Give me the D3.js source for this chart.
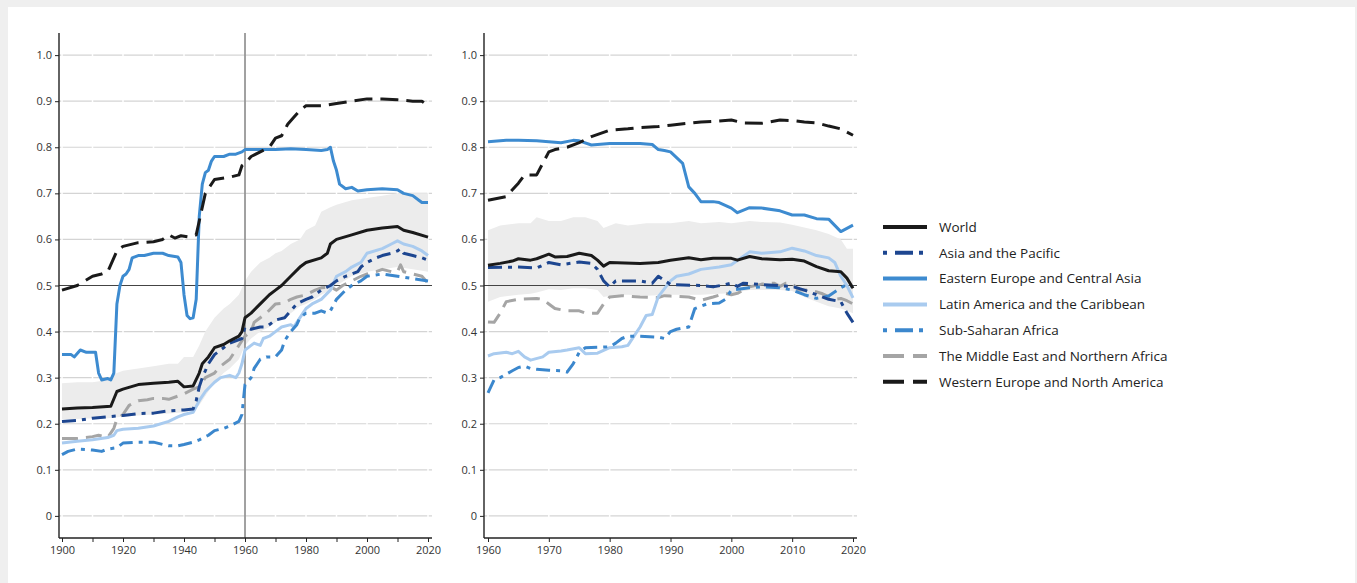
<!DOCTYPE html>
<html>
<head>
<meta charset="utf-8">
<script src="https://cdn.jsdelivr.net/npm/d3@7"></script>
<style>
  html, body { margin: 0; padding: 0; background: #efefef; }
  #chart { position: absolute; left: 0; top: 0; }
  text { font-family: "Open Sans", "Noto Sans", sans-serif; }
</style>
</head>
<body>
<div id="chart"></div>
<script>
// ---- data: [year, value] pairs ----
// left panel, 1900-2020
var worldL = [[1900,.232],[1905,.234],[1910,.235],[1916,.238],[1918,.27],[1920,.275],[1925,.285],[1930,.288],[1935,.29],[1938,.292],[1940,.28],[1943,.282],[1945,.31],[1946,.33],[1948,.345],[1950,.365],[1953,.372],[1955,.38],[1958,.39],[1959,.4],[1960,.43],[1962,.44],[1965,.46],[1968,.48],[1970,.49],[1972,.5],[1975,.52],[1978,.54],[1980,.55],[1985,.56],[1987,.57],[1988,.59],[1990,.6],[1995,.61],[2000,.62],[2005,.625],[2010,.628],[2012,.62],[2015,.615],[2020,.605]];
var asiaL = [[1900,.205],[1905,.207],[1910,.212],[1915,.215],[1920,.218],[1925,.222],[1930,.223],[1935,.228],[1940,.23],[1943,.232],[1944,.25],[1945,.28],[1946,.3],[1948,.33],[1950,.35],[1952,.36],[1955,.375],[1957,.38],[1959,.385],[1960,.41],[1962,.405],[1965,.41],[1967,.41],[1970,.425],[1973,.43],[1975,.445],[1977,.46],[1980,.47],[1982,.475],[1985,.49],[1988,.5],[1990,.51],[1993,.52],[1995,.525],[1997,.53],[1998,.54],[2000,.55],[2003,.56],[2005,.565],[2008,.57],[2010,.575],[2011,.58],[2012,.57],[2015,.565],[2018,.56],[2020,.555]];
var eecaL = [[1900,.35],[1903,.35],[1904,.345],[1906,.36],[1908,.355],[1911,.355],[1912,.31],[1913,.295],[1915,.298],[1916,.295],[1917,.31],[1918,.46],[1919,.5],[1920,.52],[1921,.525],[1922,.535],[1923,.56],[1925,.565],[1927,.565],[1930,.57],[1933,.57],[1935,.565],[1938,.562],[1939,.55],[1940,.48],[1941,.435],[1942,.428],[1943,.43],[1944,.47],[1945,.65],[1946,.72],[1947,.745],[1948,.75],[1949,.77],[1950,.78],[1953,.78],[1955,.785],[1957,.785],[1959,.79],[1960,.795],[1965,.795],[1970,.795],[1975,.797],[1980,.795],[1985,.793],[1987,.795],[1988,.8],[1989,.77],[1990,.75],[1991,.72],[1993,.71],[1995,.713],[1997,.705],[2000,.708],[2005,.71],[2010,.708],[2012,.7],[2015,.695],[2017,.685],[2018,.68],[2020,.68]];
var lacL = [[1900,.158],[1905,.162],[1910,.165],[1915,.17],[1917,.175],[1918,.185],[1920,.188],[1925,.19],[1930,.195],[1935,.205],[1938,.215],[1940,.22],[1943,.225],[1945,.25],[1947,.27],[1950,.29],[1952,.3],[1955,.305],[1957,.3],[1958,.31],[1959,.33],[1960,.36],[1962,.37],[1963,.375],[1965,.37],[1966,.385],[1968,.39],[1970,.4],[1972,.41],[1975,.415],[1976,.41],[1977,.42],[1979,.44],[1980,.45],[1982,.46],[1985,.47],[1988,.49],[1990,.52],[1993,.53],[1995,.54],[1998,.55],[2000,.57],[2005,.58],[2008,.59],[2010,.597],[2012,.59],[2015,.585],[2018,.575],[2020,.565]];
var ssaL = [[1900,.133],[1902,.14],[1905,.145],[1910,.143],[1913,.14],[1915,.145],[1918,.148],[1920,.158],[1925,.16],[1930,.16],[1933,.155],[1935,.152],[1938,.152],[1940,.155],[1943,.16],[1945,.165],[1948,.175],[1950,.185],[1953,.19],[1955,.195],[1958,.205],[1959,.22],[1960,.285],[1962,.3],[1963,.32],[1965,.34],[1967,.345],[1970,.345],[1972,.36],[1973,.38],[1975,.4],[1977,.415],[1978,.43],[1980,.44],[1983,.44],[1985,.445],[1987,.44],[1988,.445],[1990,.47],[1993,.49],[1995,.5],[1998,.51],[2000,.52],[2005,.525],[2010,.52],[2015,.515],[2020,.51]];
var menaL = [[1900,.168],[1905,.168],[1910,.172],[1912,.175],[1915,.17],[1917,.19],[1918,.21],[1920,.22],[1922,.24],[1925,.25],[1928,.252],[1930,.255],[1933,.255],[1935,.253],[1938,.26],[1940,.265],[1943,.275],[1945,.28],[1947,.3],[1950,.31],[1952,.325],[1955,.34],[1957,.36],[1958,.37],[1959,.38],[1960,.39],[1962,.4],[1963,.42],[1965,.43],[1967,.44],[1970,.46],[1973,.462],[1975,.47],[1977,.475],[1979,.478],[1980,.48],[1983,.49],[1985,.495],[1988,.497],[1990,.49],[1992,.5],[1995,.51],[1998,.52],[2000,.525],[2003,.53],[2005,.535],[2008,.53],[2010,.53],[2011,.545],[2012,.53],[2015,.525],[2018,.52],[2020,.505]];
var wenaL = [[1900,.49],[1905,.5],[1910,.52],[1913,.525],[1915,.53],[1917,.56],[1918,.575],[1920,.585],[1925,.593],[1930,.595],[1933,.6],[1935,.61],[1937,.603],[1939,.608],[1942,.605],[1944,.61],[1945,.64],[1947,.7],[1950,.73],[1955,.735],[1958,.74],[1959,.76],[1960,.765],[1962,.78],[1965,.79],[1968,.8],[1970,.82],[1972,.825],[1974,.85],[1976,.865],[1978,.88],[1980,.89],[1985,.89],[1990,.895],[1995,.9],[2000,.905],[2005,.905],[2010,.903],[2015,.9],[2018,.9],[2020,.89]];
var bandL = [[1900,.21,.288],[1905,.21,.29],[1910,.212,.29],[1915,.212,.295],[1918,.214,.31],[1920,.215,.315],[1925,.218,.32],[1930,.22,.325],[1935,.222,.33],[1938,.224,.33],[1940,.225,.345],[1943,.228,.345],[1945,.24,.37],[1947,.26,.4],[1950,.29,.43],[1953,.31,.45],[1955,.32,.46],[1958,.34,.48],[1960,.37,.51],[1962,.385,.53],[1965,.4,.55],[1968,.41,.56],[1970,.42,.57],[1972,.43,.575],[1975,.44,.59],[1978,.455,.6],[1980,.46,.62],[1983,.47,.63],[1985,.48,.66],[1988,.49,.67],[1990,.5,.675],[1995,.52,.685],[2000,.53,.69],[2005,.535,.695],[2010,.54,.7],[2015,.535,.7],[2020,.53,.7]];

// right panel, 1960-2020
var worldR = [[1960,.544],[1962,.548],[1964,.553],[1965,.558],[1967,.555],[1968,.558],[1970,.568],[1971,.562],[1973,.563],[1975,.57],[1977,.565],[1978,.555],[1979,.542],[1980,.55],[1985,.548],[1988,.55],[1990,.555],[1993,.56],[1995,.556],[1997,.559],[2000,.559],[2001,.555],[2003,.563],[2005,.558],[2008,.556],[2010,.557],[2012,.553],[2014,.541],[2016,.532],[2018,.53],[2019,.516],[2020,.494]];
var asiaR = [[1960,.539],[1965,.54],[1968,.538],[1970,.55],[1972,.545],[1975,.551],[1977,.548],[1978,.535],[1979,.51],[1980,.497],[1981,.51],[1985,.51],[1987,.505],[1988,.52],[1990,.502],[1995,.5],[1997,.497],[1999,.502],[2000,.505],[2001,.498],[2002,.505],[2005,.502],[2010,.498],[2012,.49],[2014,.48],[2016,.47],[2018,.465],[2019,.44],[2020,.42]];
var eecaR = [[1960,.812],[1963,.815],[1965,.815],[1968,.814],[1970,.812],[1972,.81],[1974,.815],[1975,.814],[1977,.805],[1980,.808],[1985,.808],[1987,.806],[1988,.795],[1989,.793],[1990,.79],[1992,.765],[1993,.714],[1994,.7],[1995,.682],[1997,.682],[1998,.68],[2000,.668],[2001,.658],[2003,.669],[2005,.668],[2008,.662],[2010,.653],[2012,.653],[2014,.645],[2016,.644],[2018,.617],[2020,.631]];
var lacR = [[1960,.347],[1961,.352],[1963,.355],[1964,.352],[1965,.357],[1966,.345],[1967,.338],[1969,.345],[1970,.355],[1972,.358],[1973,.36],[1975,.365],[1976,.352],[1978,.353],[1980,.365],[1982,.367],[1983,.37],[1984,.39],[1985,.41],[1986,.435],[1987,.437],[1988,.476],[1990,.51],[1991,.52],[1993,.525],[1995,.535],[1998,.54],[2000,.545],[2003,.573],[2005,.57],[2008,.573],[2010,.581],[2012,.575],[2014,.565],[2016,.56],[2017,.55],[2018,.52],[2019,.5],[2020,.473]];
var ssaR = [[1960,.267],[1961,.295],[1962,.3],[1964,.315],[1965,.322],[1966,.325],[1967,.32],[1968,.318],[1970,.316],[1972,.315],[1973,.312],[1974,.33],[1975,.355],[1976,.365],[1980,.367],[1981,.375],[1982,.385],[1983,.39],[1985,.39],[1988,.388],[1989,.385],[1990,.4],[1991,.405],[1993,.41],[1994,.45],[1996,.46],[1998,.462],[1999,.47],[2000,.49],[2003,.495],[2005,.497],[2008,.495],[2010,.49],[2012,.48],[2014,.472],[2016,.477],[2018,.495],[2019,.502],[2020,.497]];
var menaR = [[1960,.421],[1961,.42],[1962,.44],[1963,.465],[1965,.47],[1968,.472],[1969,.47],[1970,.46],[1971,.45],[1973,.445],[1975,.445],[1976,.44],[1978,.44],[1979,.46],[1980,.475],[1982,.478],[1985,.475],[1988,.474],[1989,.478],[1990,.477],[1993,.475],[1995,.468],[1997,.475],[1999,.483],[2000,.48],[2001,.483],[2002,.49],[2003,.497],[2005,.503],[2007,.505],[2008,.498],[2009,.505],[2010,.505],[2011,.49],[2013,.49],[2015,.482],[2017,.47],[2018,.472],[2019,.467],[2020,.46]];
var wenaR = [[1960,.685],[1963,.693],[1965,.722],[1966,.74],[1968,.74],[1970,.79],[1971,.795],[1973,.8],[1975,.81],[1977,.823],[1980,.837],[1983,.84],[1985,.843],[1988,.845],[1990,.848],[1995,.855],[1998,.857],[2000,.859],[2002,.853],[2005,.852],[2008,.859],[2010,.858],[2012,.855],[2014,.853],[2016,.846],[2018,.84],[2020,.826]];
var bandR = [[1960,.465,.62],[1962,.475,.63],[1965,.48,.635],[1967,.482,.635],[1968,.485,.648],[1970,.492,.64],[1972,.49,.64],[1974,.494,.648],[1976,.494,.648],[1978,.49,.64],[1979,.475,.625],[1981,.48,.635],[1983,.48,.63],[1986,.478,.635],[1990,.48,.635],[1993,.48,.64],[1995,.48,.635],[1998,.482,.638],[2000,.483,.635],[2003,.49,.64],[2005,.49,.638],[2008,.49,.637],[2010,.488,.632],[2012,.475,.626],[2014,.465,.62],[2016,.455,.612],[2018,.45,.6],[2019,.445,.58],[2020,.44,.58]];

var seriesNames = ["World", "Asia and the Pacific", "Eastern Europe and Central Asia", "Latin America and the Caribbean", "Sub-Saharan Africa", "The Middle East and Northern Africa", "Western Europe and North America"];
var seriesColors = ["#1a1a1a", "#1d4690", "#3d8bd0", "#a9cbef", "#3b87cd", "#a5a5a5", "#1a1a1a"];
var seriesDash = [null, "14,6,4,6", null, null, "14,6,4,6", "16,8", "18,8"];
var yTicks = [0, 0.1, 0.2, 0.3, 0.4, 0.5, 0.6, 0.7, 0.8, 0.9, 1.0];
var yTickLabels = ["0", "0.1", "0.2", "0.3", "0.4", "0.5", "0.6", "0.7", "0.8", "0.9", "1.0"];

var width = 1357, height = 583;

var svg = d3.select("#chart").append("svg")
  .attr("width", width)
  .attr("height", height);

// white card
svg.append("rect")
  .attr("x", 8).attr("y", 7)
  .attr("width", 1347).attr("height", height)
  .attr("fill", "#fff");

var y = d3.scaleLinear().domain([-0.048, 1.048]).range([538, 33]);

function panel(opts) {
  var x = d3.scaleLinear().domain(opts.domain).range(opts.range);
  var g = svg.append("g");
  var x0 = opts.axisX, x1 = opts.range[1] + 4;
  var tickYears = d3.range(opts.domain[0], opts.domain[1] + 1, 10);

  // gridlines
  g.selectAll(".grid").data(yTicks).enter().append("line")
    .attr("x1", x0).attr("x2", x1)
    .attr("y1", d => y(d)).attr("y2", d => y(d))
    .attr("stroke", "#d4d4d4").attr("stroke-width", 1.2);

  // small white breaks at decades
  g.selectAll(".brk").data(tickYears).enter().append("line")
    .attr("x1", d => x(d)).attr("x2", d => x(d))
    .attr("y1", y(1.048)).attr("y2", y(-0.048))
    .attr("stroke", "#fff").attr("stroke-width", 1.5);

  // shaded band
  g.append("path")
    .datum(opts.band)
    .attr("fill", "#ececec")
    .attr("d", d3.area().x(d => x(d[0])).y0(d => y(d[1])).y1(d => y(d[2])));

  // reference lines
  g.append("line")
    .attr("x1", x0).attr("x2", x1)
    .attr("y1", y(0.5)).attr("y2", y(0.5))
    .attr("stroke", "#444").attr("stroke-width", 1);
  if (opts.vline) {
    g.append("line")
      .attr("x1", x(opts.vline)).attr("x2", x(opts.vline))
      .attr("y1", y(1.048)).attr("y2", y(-0.048))
      .attr("stroke", "#444").attr("stroke-width", 1);
  }

  var line = d3.line().x(d => x(d[0])).y(d => y(d[1]));

  // draw in an order close to the picture
  var order = [5, 3, 4, 1, 0, 2, 6];
  order.forEach(function(i) {
    g.append("path")
      .datum(opts.series[i])
      .attr("fill", "none")
      .attr("stroke", seriesColors[i])
      .attr("stroke-width", 3)
      .attr("stroke-linejoin", "round")
      .attr("stroke-dasharray", seriesDash[i])
      .attr("d", line);
  });

  // y axis
  var yAxis = d3.axisLeft(y).tickValues(yTicks).tickSize(4)
    .tickFormat((d, i) => yTickLabels[i]);
  var ya = g.append("g").attr("transform", "translate(" + x0 + ",0)").call(yAxis);
  ya.select(".domain").attr("d", "M0," + y(1.048) + "V" + y(-0.048)).attr("stroke", "#222").attr("stroke-width", 1.4);
  ya.selectAll(".tick line").attr("stroke", "#222");
  ya.selectAll("text").attr("font-size", 11).attr("fill", "#333").attr("x", -7);

  // x axis
  var xAxis = d3.axisBottom(x).tickValues(tickYears).tickSize(4)
    .tickFormat(d => (opts.labelEvery && (d - opts.domain[0]) % opts.labelEvery) ? "" : d);
  var xa = g.append("g").attr("transform", "translate(0," + y(-0.048) + ")").call(xAxis);
  xa.select(".domain").attr("d", "M" + x0 + ",0H" + x1).attr("stroke", "#222").attr("stroke-width", 1.4);
  xa.selectAll(".tick line").attr("stroke", "#222");
  xa.selectAll("text").attr("font-size", 11).attr("fill", "#333").attr("y", 8);
}

panel({
  domain: [1900, 2020], range: [62, 428], axisX: 59,
  band: bandL, vline: 1960, labelEvery: 20,
  series: [worldL, asiaL, eecaL, lacL, ssaL, menaL, wenaL]
});

panel({
  domain: [1960, 2020], range: [488, 853], axisX: 484,
  band: bandR, vline: null, labelEvery: 10,
  series: [worldR, asiaR, eecaR, lacR, ssaR, menaR, wenaR]
});

// legend
var legend = svg.append("g").attr("transform", "translate(883,227)");
var rows = legend.selectAll("g").data(seriesNames).enter().append("g")
  .attr("transform", (d, i) => "translate(0," + (i * 25.8) + ")");
rows.append("line")
  .attr("x1", 0).attr("x2", 44)
  .attr("stroke", (d, i) => seriesColors[i])
  .attr("stroke-width", 4)
  .attr("stroke-dasharray", (d, i) => i === 1 || i === 4 ? "4,8,18,6" : (i === 5 || i === 6 ? "21,9" : null));
rows.append("text")
  .attr("x", 56).attr("dy", "0.35em")
  .attr("font-size", 13.5).attr("fill", "#222")
  .text(d => d);
</script>
</body>
</html>
